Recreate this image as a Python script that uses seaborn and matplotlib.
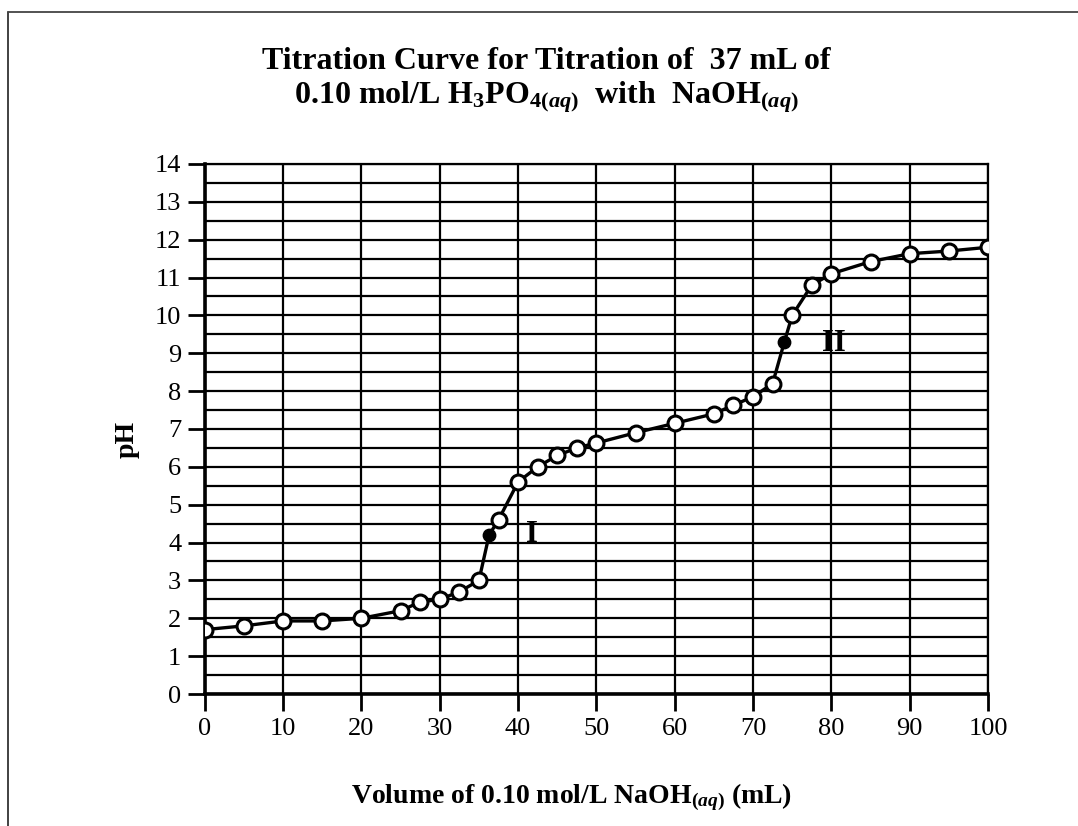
import matplotlib
matplotlib.use("Agg")
import matplotlib.pyplot as plt
from matplotlib.lines import Line2D
import pandas as pd
import seaborn as sns

# Titration readings (volume of NaOH added vs measured pH)
volume = [0, 5, 10, 15, 20, 25, 27.5, 30, 32.5, 35, 36.3, 37.5, 40, 42.5, 45,
          47.5, 50, 55, 60, 65, 67.5, 70, 72.5, 74, 75, 77.5, 80, 85, 90, 95, 100]
ph = [1.7, 1.8, 1.93, 1.93, 2.0, 2.2, 2.43, 2.5, 2.7, 3.0, 4.2, 4.6, 5.6, 6.0, 6.3,
      6.5, 6.63, 6.9, 7.15, 7.4, 7.63, 7.85, 8.2, 9.3, 10.0, 10.8, 11.1, 11.42, 11.63, 11.7, 11.8]
# the two equivalence points are drawn as filled dots
equivalence = [36.3, 74]
eq_labels = ["I", "II"]
eq_label_pos = [(41.8, 4.2), (80.3, 9.25)]

x_ticks = list(range(0, 101, 10))
y_ticks = list(range(0, 15))
y_minor = [i + 0.5 for i in range(0, 14)]

df = pd.DataFrame({"volume": volume, "ph": ph})
df["equiv"] = df["volume"].isin(equivalence)

sns.set_style("white")
plt.rcParams["font.family"] = ["Liberation Serif", "DejaVu Serif"]
plt.rcParams["mathtext.fontset"] = "custom"
plt.rcParams["mathtext.rm"] = "Liberation Serif:bold"
plt.rcParams["mathtext.bf"] = "Liberation Serif:bold"
plt.rcParams["mathtext.it"] = "Liberation Serif:bold:italic"
for key in ["text.color", "axes.labelcolor", "xtick.color", "ytick.color"]:
    plt.rcParams[key] = "black"

fig = plt.figure(figsize=(10.78, 8.26), dpi=100)
ax = fig.add_axes([0.190, 0.1598, 0.7265, 0.6417])

# grid: every 10 mL and every 0.5 pH
for v in x_ticks:
    ax.axvline(v, color="black", lw=1.6, zorder=1)
for p in y_ticks + y_minor:
    ax.axhline(p, color="black", lw=1.6, zorder=1)

sns.lineplot(data=df, x="volume", y="ph", sort=False, color="black", lw=2.4,
             ax=ax, zorder=3, legend=False)
sns.scatterplot(data=df[~df["equiv"]], x="volume", y="ph", s=115, color="white",
                edgecolor="black", linewidth=2.2, ax=ax, zorder=4, legend=False)
sns.scatterplot(data=df[df["equiv"]], x="volume", y="ph", s=80, color="black",
                edgecolor="black", linewidth=1, ax=ax, zorder=4, legend=False)

for lab, (lx, ly) in zip(eq_labels, eq_label_pos):
    ax.text(lx, ly, lab, fontsize=22, fontweight="bold", ha="center", va="center", zorder=5)

ax.set_xlim(0, 100)
ax.set_ylim(0, 14)
ax.set_xticks(x_ticks)
ax.set_yticks(y_ticks)
ax.tick_params(axis="both", direction="out", length=12, width=2, labelsize=19,
               colors="black", pad=5)
ax.tick_params(axis="both", left=True, bottom=True)
for side in ["left", "bottom"]:
    ax.spines[side].set_linewidth(2.6)
for side in ["right", "top"]:
    ax.spines[side].set_linewidth(1.6)
for sp in ax.spines.values():
    sp.set_color("black")
    sp.set_zorder(2)

ax.set_xlabel(r"Volume of 0.10 mol/L NaOH$_{\mathit{(aq)}}$ (mL)", fontsize=20,
              fontweight="bold")
ax.xaxis.set_label_coords(0.468, -0.165)
ax.set_ylabel("pH", fontsize=20, fontweight="bold")
ax.yaxis.set_label_coords(-0.083, 0.48)

fig.text(0.507, 0.926, "Titration Curve for Titration of  37 mL of",
         fontsize=23, fontweight="bold", ha="center", va="center")
fig.text(0.507, 0.882, r"0.10 mol/L H$_3$PO$_{4\mathit{(aq)}}$  with  NaOH$_{\mathit{(aq)}}$",
         fontsize=23, fontweight="bold", ha="center", va="center")

# scanned page frame: left and top edges
fig.add_artist(Line2D([0.007, 0.007], [0.0, 0.986], color="#333333", lw=1.3))
fig.add_artist(Line2D([0.007, 1.0], [0.986, 0.986], color="#444444", lw=1.3))

fig.savefig("out.png", dpi=100)
